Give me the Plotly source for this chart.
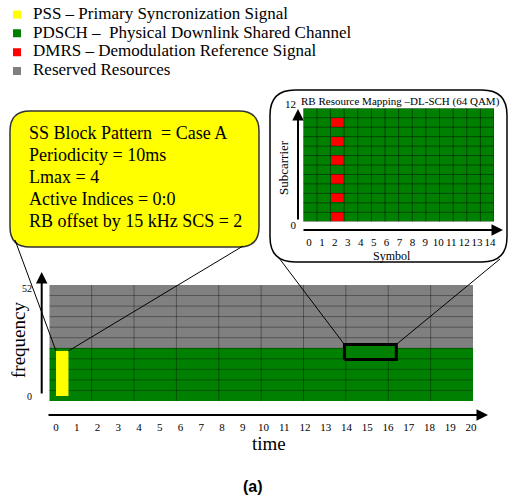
import plotly.graph_objects as go

# ---------------------------------------------------------------- data
legend_labels = [
    "PSS – Primary Syncronization Signal",
    "PDSCH –  Physical Downlink Shared Channel",
    "DMRS – Demodulation Reference Signal",
    "Reserved Resources",
]
legend_colors = ["#ffff00", "#008000", "#ff0000", "#808080"]

ssb_lines = [
    "SS Block Pattern  = Case A",
    "Periodicity = 10ms",
    "Lmax = 4",
    "Active Indices = 0:0",
    "RB offset by 15 kHz SCS = 2",
]

# main resource grid (columns x rows), PDSCH occupies the lowest rows
grid_cols = 10
grid_rows = 11
pdsch_rows = 5
time_ticks = list(range(0, 21))
freq_ticks = [0, 52]

# PSS block and highlighted resource block (time, frequency)
pss_time = [0.0, 0.6]
pss_freq = [0.0, 21.7]
rb_time = [13.9, 16.4]
rb_freq = [17.6, 24.8]

# resource block mapping (symbols x subcarriers)
n_symbols = 14
n_subcarriers = 12
dmrs_symbols = [2]
dmrs_subcarriers = [0, 2, 4, 6, 8, 10]
symbol_ticks = list(range(0, 15))
subcarrier_ticks = [0, 12]

# ---------------------------------------------------------------- layout helpers
W, H = 508, 499
SERIF = "Liberation Serif"
SANS = "Liberation Sans"
GREEN, GRAY, YELLOW, RED = "#008000", "#808080", "#ffff00", "#ff0000"


def px_x(px):
    return px / W


def px_y(py):
    return 1 - py / H


def dom_x(a, b):
    return [a / W, b / W]


def dom_y(top, bottom):
    return [1 - bottom / H, 1 - top / H]


# placement of the time / frequency scale on the page
T0_PX, T_PX = 56.0, 20.75
F0_PY, F_PY = 396.0, 2.077


def to_time(px):
    return (px - T0_PX) / T_PX


def to_freq(py):
    return (F0_PY - py) / F_PY


def grid_lines(nx, ny, outer=True):
    xs, ys = [], []
    cols = range(nx + 1) if outer else range(1, nx)
    rows = range(ny + 1) if outer else range(1, ny)
    for c in cols:
        xs += [c, c, None]
        ys += [0, ny, None]
    for r in rows:
        xs += [0, nx, None]
        ys += [r, r, None]
    return xs, ys


def rounded_path(x0, y0, x1, y1, r):
    pts = [
        ("M", (x0 + r, y0)), ("L", (x1 - r, y0)), ("Q", (x1, y0), (x1, y0 + r)),
        ("L", (x1, y1 - r)), ("Q", (x1, y1), (x1 - r, y1)),
        ("L", (x0 + r, y1)), ("Q", (x0, y1), (x0, y1 - r)),
        ("L", (x0, y0 + r)), ("Q", (x0, y0), (x0 + r, y0)),
    ]
    out = []
    for cmd, *ps in pts:
        out.append(cmd + " ".join(f"{px_x(a):.5f},{px_y(b):.5f}" for a, b in ps))
    return " ".join(out) + " Z"


fig = go.Figure()

# ---------------------------------------------------------------- main grid
z_main = [[0 if r < pdsch_rows else 1 for _ in range(grid_cols)] for r in range(grid_rows)]
fig.add_trace(go.Heatmap(
    z=z_main, x0=0.5, dx=1, y0=0.5, dy=1,
    colorscale=[[0, GREEN], [0.5, GREEN], [0.5, GRAY], [1, GRAY]],
    zmin=0, zmax=1, showscale=False, hoverinfo="skip", xaxis="x", yaxis="y",
))
gx, gy = grid_lines(grid_cols, grid_rows, outer=False)
fig.add_trace(go.Scatter(
    x=gx, y=gy, mode="lines", line=dict(color="rgba(0,0,0,0.35)", width=1),
    hoverinfo="skip", showlegend=False, xaxis="x", yaxis="y",
))

# ---------------------------------------------------------------- time / frequency overlays
fig.add_trace(go.Scatter(
    x=[pss_time[0], pss_time[1], pss_time[1], pss_time[0], pss_time[0]],
    y=[pss_freq[0], pss_freq[0], pss_freq[1], pss_freq[1], pss_freq[0]],
    mode="lines", fill="toself", fillcolor=YELLOW, line=dict(width=0, color=YELLOW),
    hoverinfo="skip", showlegend=False, xaxis="x2", yaxis="y2",
))
fig.add_trace(go.Scatter(
    x=[rb_time[0], rb_time[1], rb_time[1], rb_time[0], rb_time[0]],
    y=[rb_freq[0], rb_freq[0], rb_freq[1], rb_freq[1], rb_freq[0]],
    mode="lines", fill="toself", fillcolor=GREEN, line=dict(width=3, color="black"),
    hoverinfo="skip", showlegend=False, xaxis="x2", yaxis="y2",
))
# callout leaders: SS block box -> PSS, mapping box -> highlighted RB
lead_x = [to_time(15), pss_time[0], None, to_time(243), pss_time[1], None,
          to_time(279), rb_time[0], None, to_time(500), rb_time[1]]
lead_y = [to_freq(240), pss_freq[1], None, to_freq(246), pss_freq[1], None,
          to_freq(258), rb_freq[1], None, to_freq(259), rb_freq[1]]
fig.add_trace(go.Scatter(
    x=lead_x, y=lead_y, mode="lines", line=dict(color="black", width=1),
    hoverinfo="skip", showlegend=False, xaxis="x2", yaxis="y2",
))

# ---------------------------------------------------------------- RB mapping inset
z_rb = [[1 if (s in dmrs_symbols and k in dmrs_subcarriers) else 0 for s in range(n_symbols)]
        for k in range(n_subcarriers)]
fig.add_trace(go.Heatmap(
    z=z_rb, x0=0.5, dx=1, y0=0.5, dy=1,
    colorscale=[[0, GREEN], [0.5, GREEN], [0.5, RED], [1, RED]],
    zmin=0, zmax=1, showscale=False, hoverinfo="skip", xaxis="x3", yaxis="y3",
))
ix, iy = grid_lines(n_symbols, n_subcarriers)
fig.add_trace(go.Scatter(
    x=ix, y=iy, mode="lines", line=dict(color="rgba(0,0,0,0.45)", width=1),
    hoverinfo="skip", showlegend=False, xaxis="x3", yaxis="y3",
))
fig.add_trace(go.Scatter(x=[None], y=[None], showlegend=False, xaxis="x4", yaxis="y4"))

# ---------------------------------------------------------------- legend
idx = list(range(len(legend_labels)))
SWATCH_X, TEXT_X = 17, 33
fig.add_trace(go.Scatter(
    x=[SWATCH_X] * len(idx), y=idx, mode="markers",
    marker=dict(symbol="square", size=8, color=legend_colors, line=dict(width=0)),
    hoverinfo="skip", showlegend=False, xaxis="x5", yaxis="y5",
))
fig.add_trace(go.Scatter(
    x=[TEXT_X] * len(idx), y=idx, mode="text", text=legend_labels,
    textposition="middle right", textfont=dict(family=SERIF, size=17, color="black"),
    hoverinfo="skip", showlegend=False, xaxis="x5", yaxis="y5",
))

hidden = dict(visible=False, fixedrange=True)
tickstyle = dict(showgrid=False, zeroline=False, showline=False, ticks="",
                 fixedrange=True, tickangle=0, automargin=False)

fig.update_layout(
    width=W, height=H, margin=dict(l=0, r=0, t=0, b=0, autoexpand=False),
    paper_bgcolor="white", plot_bgcolor="rgba(0,0,0,0)", showlegend=False,
    xaxis=dict(domain=dom_x(49.3, 473), range=[0, grid_cols], anchor="y", **hidden),
    yaxis=dict(domain=dom_y(285, 401), range=[0, grid_rows], anchor="x", **hidden),
    xaxis2=dict(domain=[0, 1], range=[to_time(0), to_time(W)], anchor="free",
                position=px_y(419), tickvals=time_ticks,
                tickfont=dict(family=SERIF, size=11, color="black"), **tickstyle),
    yaxis2=dict(domain=[0, 1], range=[to_freq(H), to_freq(0)], anchor="free",
                position=px_x(32), tickvals=freq_ticks,
                tickfont=dict(family=SERIF, size=10, color="black"), **tickstyle),
    xaxis3=dict(domain=dom_x(303.3, 494), range=[0, n_symbols], anchor="y3", **hidden),
    yaxis3=dict(domain=dom_y(108.3, 221.7), range=[0, n_subcarriers], anchor="x3", **hidden),
    xaxis4=dict(domain=dom_x(309, 490), range=[0, symbol_ticks[-1]], anchor="free",
                position=px_y(234), tickvals=symbol_ticks,
                tickfont=dict(family=SERIF, size=11, color="black"), **tickstyle),
    yaxis4=dict(domain=dom_y(104, 225), range=[0, subcarrier_ticks[-1]], anchor="free",
                position=px_x(296), tickvals=subcarrier_ticks,
                tickfont=dict(family=SERIF, size=11, color="black"), **tickstyle),
    xaxis5=dict(domain=[0, 1], range=[0, W], anchor="y5", **hidden),
    yaxis5=dict(domain=dom_y(5.1, 80.4), range=[len(idx) - 0.5, -0.5], anchor="x5", **hidden),
)

# ---------------------------------------------------------------- boxes
fig.add_shape(type="path", path=rounded_path(10, 111, 259, 247, 20), xref="paper", yref="paper",
              fillcolor=YELLOW, line=dict(color="#333333", width=1.5), layer="below")
fig.add_shape(type="path", path=rounded_path(270, 90, 507, 262, 25), xref="paper", yref="paper",
              fillcolor="white", line=dict(color="black", width=1.5), layer="below")

# ---------------------------------------------------------------- texts
for i, line in enumerate(ssb_lines):
    fig.add_annotation(x=px_x(27), y=px_y(133 + 22 * i), xref="paper", yref="paper",
                       text=line, showarrow=False, xanchor="left", yanchor="middle",
                       font=dict(family=SERIF, size=18, color="black"))


def label(text, x, y, size, angle=0, family=SERIF):
    fig.add_annotation(x=px_x(x), y=px_y(y), xref="paper", yref="paper", text=text,
                       showarrow=False, textangle=angle, xanchor="center", yanchor="middle",
                       font=dict(family=family, size=size, color="black"))


label("frequency", 18, 340, 19, angle=-90)
label("time", 269, 443, 19)
label("RB Resource Mapping –DL-SCH (64 QAM)", 400, 102, 11)
label("Subcarrier", 283, 168, 13, angle=-90)
label("Symbol", 392, 256, 12)
label("<b>(a)</b>", 253, 486, 16, family=SANS)


def arrow(x_tip, y_tip, x_tail, y_tail):
    fig.add_annotation(x=px_x(x_tip), y=px_y(y_tip), xref="paper", yref="paper",
                       ax=x_tail - x_tip, ay=y_tail - y_tip, axref="pixel", ayref="pixel",
                       text="", showarrow=True, arrowhead=2, arrowsize=1.15,
                       arrowwidth=2, arrowcolor="black", standoff=0)


arrow(41.7, 272, 41.7, 395)
arrow(488, 415, 47, 415)
arrow(298, 109, 298, 221)
arrow(503, 230, 302, 230)

# the figure fills the page edge to edge
fig.write_html("out.html", post_script="document.body.style.margin='0px';")
